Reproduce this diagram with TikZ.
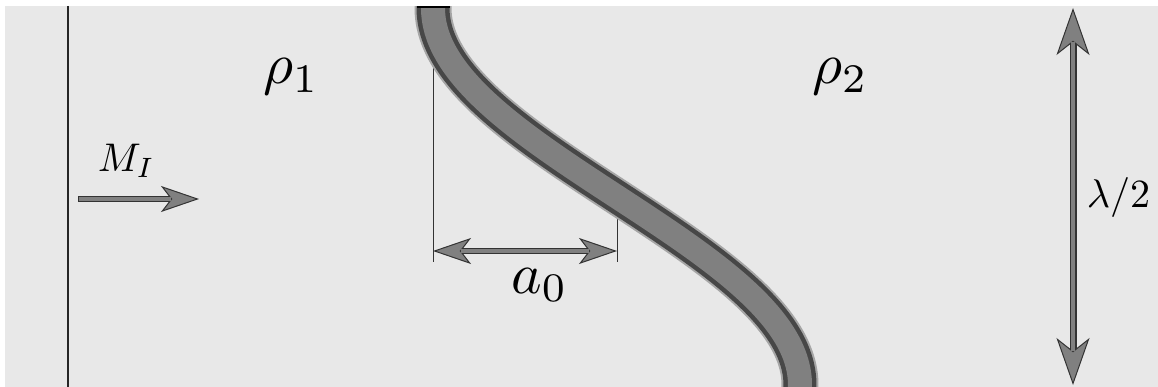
\documentclass[tikz,border=0pt]{standalone}
\usetikzlibrary{arrows.meta}
\tikzset{
  smalltip/.tip={Stealth[length=38pt,width=26pt,inset=10pt,fill=black!50,line width=1pt]},
  bigtip/.tip={Stealth[length=47pt,width=33pt,inset=13pt,fill=black!50,line width=1pt]}
}
\begin{document}
\begin{tikzpicture}[x=1pt,y=-1pt,
  bigtxt/.style={anchor=base west,inner sep=0pt,scale=5.8},
  smalltxt/.style={anchor=base west,inner sep=0pt,scale=4.0},
  guide/.style={line width=0.8pt,black!80},
  arrowout/.style={line width=6pt,black!80},
  arrowin/.style={line width=3.8pt,black!50}
]
\useasboundingbox (0,0) rectangle (1158,387);
% background
\fill[black!9] (5,6) rectangle (1158,387);
% left wall
\coordinate (wallT) at (68,6);
\coordinate (wallB) at (68,387);
\draw[line width=2.4pt,black!85] (wallT) -- (wallB);
% guide lines
\coordinate (gTop) at (433,8);
\coordinate (gTopB) at (433,262);
\coordinate (gMid) at (617,196);
\coordinate (gMidB) at (617,262);
\draw[guide] (gTop) -- (gTopB);
\draw[guide] (gMid) -- (gMidB);
% interface curve
\begin{scope}
\clip (5,7) rectangle (1158,387);
\draw[line width=37pt,black!35] plot[domain=-0.03:1.05,samples=120] ({616.5-183.5*cos(180*\x)},{8+377*\x});
\draw[line width=33pt,black!72] plot[domain=-0.03:1.05,samples=120] ({616.5-183.5*cos(180*\x)},{8+377*\x});
\draw[line width=24pt,black!50] plot[domain=-0.03:1.05,samples=120] ({616.5-183.5*cos(180*\x)},{8+377*\x});
\end{scope}
\coordinate (capL) at (417,7);
\coordinate (capR) at (450,7);
\draw[line width=1.6pt,black] (capL) -- (capR);
% M_I arrow
\coordinate (mA) at (78,199);
\coordinate (mB) at (199,199);
\draw[arrowout,-{smalltip}] (mA) -- (mB);
\draw[arrowin,shorten <=1pt,shorten >=28pt] (mA) -- (mB);
% a0 arrow
\coordinate (aA) at (433,251);
\coordinate (aB) at (617,251);
\draw[arrowout,{smalltip}-{smalltip}] (aA) -- (aB);
\draw[arrowin,shorten <=28pt,shorten >=28pt] (aA) -- (aB);
% lambda arrow
\coordinate (lA) at (1073,8);
\coordinate (lB) at (1073,385);
\draw[arrowout,line width=7pt,{bigtip}-{bigtip}] (lA) -- (lB);
\draw[arrowin,line width=4.8pt,shorten <=34pt,shorten >=34pt] (lA) -- (lB);
% labels
\node[bigtxt] (rho1) at (262,84) {$\rho_1$};
\node[bigtxt] (rho2) at (811,84) {$\rho_2$};
\node[bigtxt] (a0) at (510,293) {$a_0$};
\node[smalltxt] (MI) at (97,172) {$M_I$};
\node[smalltxt] (lam) at (1086,208) {$\lambda/2$};
\end{tikzpicture}
\end{document}
